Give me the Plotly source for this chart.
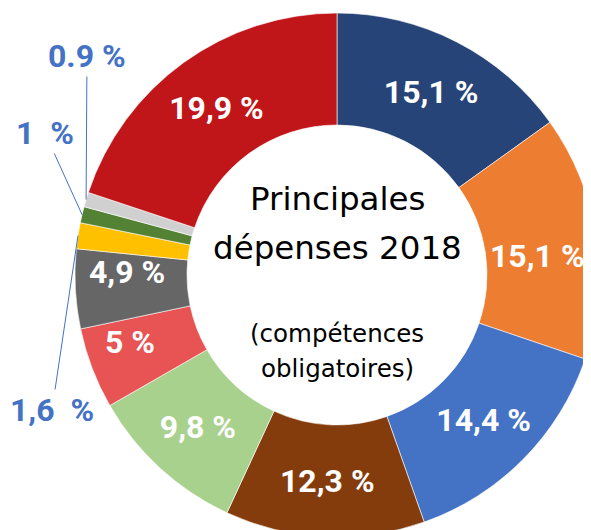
import math
import plotly.graph_objects as go

# Data (clockwise from 12 o'clock)
values = [15.1, 15.1, 14.4, 12.3, 9.8, 5.0, 4.9, 1.6, 1.0, 0.9, 19.9]
colors = ["#264478", "#ED7D31", "#4472C4", "#843C0C", "#A9D18E", "#E85353",
          "#666666", "#FFC000", "#548235", "#D0D0D0", "#C0161A"]
# how each slice is labelled: pie = inside text by plotly, ann = inside text as annotation, out = outside with leader line
label_mode = ["pie", "ann", "pie", "pie", "pie", "ann", "ann", "out", "out", "out", "pie"]
outside_texts = {7: "1,6\u00a0\u00a0%", 8: "1\u00a0\u00a0%", 9: "0.9 %"}

def fr(v):
    s = f"{v:g}".replace(".", ",")
    return s + " %"

texts = [fr(v) if m == "pie" else "" for v, m in zip(values, label_mode)]

W, H = 591, 530
OFF = 8                     # page body margin
CX, CY, R = 337 - OFF, 275 - OFF, 262   # pie geometry inside the plot div
RIN = 150
HOLE = RIN / R
LABEL_FONT = "Roboto"
LABEL_SIZE = 32

fig = go.Figure(go.Pie(
    values=values,
    text=texts,
    textinfo="text",
    textposition=["inside" if m == "pie" else "none" for m in label_mode],
    insidetextorientation="horizontal",
    insidetextfont=dict(family=LABEL_FONT, size=LABEL_SIZE, color="white"),
    marker=dict(colors=colors, line=dict(color="white", width=0.6)),
    sort=False,
    direction="clockwise",
    rotation=0,
    hole=HOLE,
    showlegend=False,
    hoverinfo="skip",
    domain=dict(x=[(CX - R) / W, (CX + R) / W], y=[(H - CY - R) / H, (H - CY + R) / H]),
))

ann = []
# centre text
center_lines = [("Principales", 32.5, 199), ("dépenses 2018", 32.5, 248),
                ("(compétences", 24.5, 333), ("obligatoires)", 24.5, 368)]
for t, sz, y in center_lines:
    ann.append(dict(text=t, x=CX / W, y=1 - (y - OFF) / H, xref="paper", yref="paper",
                    showarrow=False, font=dict(family="DejaVu Sans", size=sz, color="black"),
                    xanchor="center", yanchor="middle"))

# label placement tweaks (pixels)
nudge = {1: (-3, 11), 5: (-15, -6), 6: (-4, -14)}
label_pos = {9: (87, 56), 8: (45, 133), 7: (52, 410)}
total = sum(values)
cum = 0
for i, v in enumerate(values):
    mid = (cum + v / 2) / total * 2 * math.pi
    cum += v
    if label_mode[i] == "ann":
        rm = (R + RIN) / 2
        dx, dy = nudge.get(i, (0, 0))
        px = CX + rm * math.sin(mid) + dx
        py = CY - rm * math.cos(mid) + dy
        ann.append(dict(text="<b>" + fr(v) + "</b>", x=px / W, y=1 - py / H,
                        xref="paper", yref="paper", showarrow=False,
                        xanchor="center", yanchor="middle",
                        font=dict(family=LABEL_FONT, size=LABEL_SIZE, color="white")))
    elif label_mode[i] == "out":
        tx = CX + R * math.sin(mid)
        ty = CY - R * math.cos(mid)
        lx, ly = label_pos[i]
        lx, ly = lx - OFF, ly - OFF
        ann.append(dict(text="<b>" + outside_texts[i] + "</b>", x=tx / W, y=1 - ty / H,
                        xref="paper", yref="paper", showarrow=True, arrowhead=0,
                        arrowwidth=1, arrowcolor="#4472C4", ax=lx - tx, ay=ly - ty,
                        font=dict(family=LABEL_FONT, size=LABEL_SIZE, color="#4472C4")))

fig.update_layout(width=W, height=H, margin=dict(l=0, r=0, t=0, b=0),
                  paper_bgcolor="white", plot_bgcolor="white", annotations=ann,
                  font=dict(family=LABEL_FONT))
fig.update_traces(texttemplate="<b>%{text}</b>")
fig.write_html("out.html")
